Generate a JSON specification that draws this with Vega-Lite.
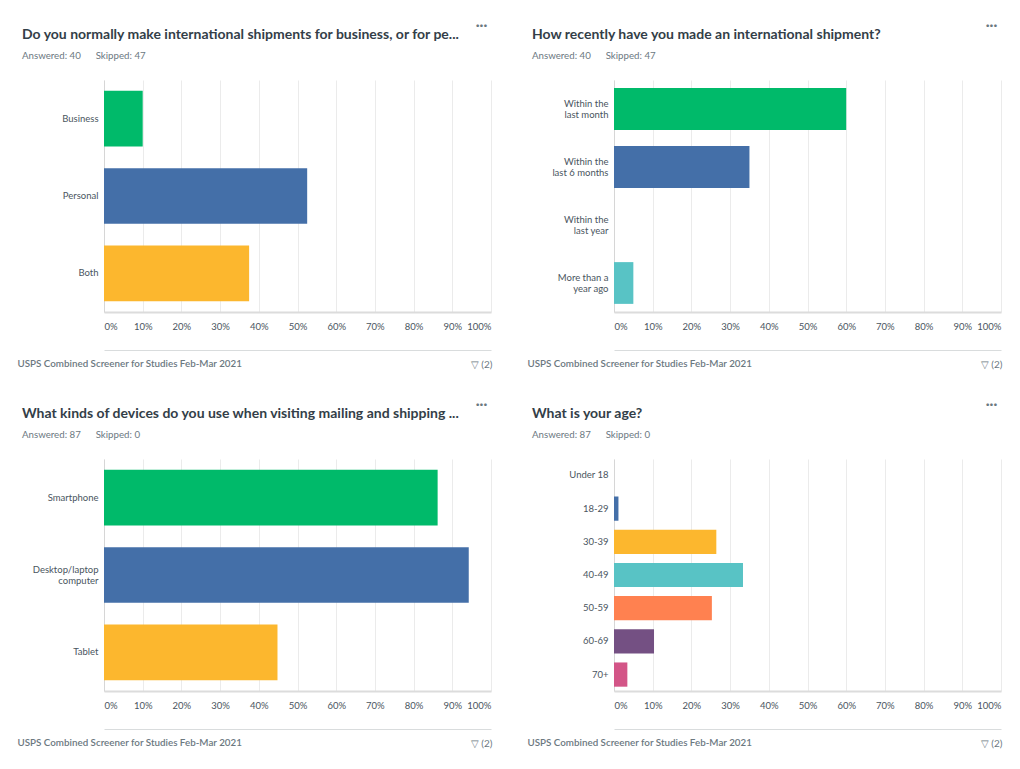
{
  "$schema": "https://vega.github.io/schema/vega-lite/v6.json",
  "autosize": {"type": "none"},
  "padding": {"left": 104, "top": 80, "right": 916, "bottom": 689},
  "background": "white",
  "bounds": "flush",
  "columns": 2,
  "spacing": {"row": 147, "column": 123},
  "resolve": {"scale": {"color": "independent", "x": "independent", "y": "independent"}},
  "concat": [
        {
          "width": 387, "height": 232,
          "title": {"text": "Do you normally make international shipments for business, or for pe...", "subtitle": "Answered: 40\u00a0\u00a0\u00a0\u00a0\u00a0\u00a0Skipped: 47"},
          "data": {"values": [
            {"answer": "Business", "pct": 10},
            {"answer": "Personal", "pct": 52.5},
            {"answer": "Both", "pct": 37.5}
          ]},
          "layer": [
            {
              "mark": {"type": "bar"},
              "encoding": {
                "y": {"field": "answer", "type": "nominal", "sort": null, "scale": {"paddingInner": 0.28, "paddingOuter": 0.14}, "axis": {"title": "···", "titleX": 377, "titleY": -55}},
                "x": {"field": "pct", "type": "quantitative", "scale": {"domain": [0, 100]}, "axis": {"values": [0,10,20,30,40,50,60,70,80,90,100], "labelExpr": "datum.value + '%'", "title": "USPS Combined Screener for Studies Feb-Mar 2021", "titleX": -87, "titleY": 51}},
                "color": {"field": "answer", "type": "nominal", "scale": {"domain": ["Business", "Personal", "Both"], "range": ["#00ba6a", "#446fa8", "#fcb72e"]}, "legend": null}
              }
            },
            {
              "mark": {"type": "bar", "opacity": 0},
              "encoding": {
                "y": {"field": "answer", "type": "nominal", "sort": null},
                "x": {"field": "pct", "type": "quantitative", "axis": {"orient": "bottom", "offset": 38, "domain": true, "domainColor": "#d9dcdd", "domainWidth": 1, "labels": false, "ticks": false, "grid": false, "title": "▽ (2)", "titleX": 388, "titleY": 14, "titleAlign": "right", "titleBaseline": "middle", "titleFontSize": 10, "titleFontWeight": "normal", "titleColor": "#6b787f"}}
              }
            }
          ],
          "resolve": {"axis": {"x": "independent"}}
        },
        {
          "width": 387, "height": 232,
          "title": {"text": "How recently have you made an international shipment?", "subtitle": "Answered: 40\u00a0\u00a0\u00a0\u00a0\u00a0\u00a0Skipped: 47"},
          "data": {"values": [
            {"answer": "Within the last month", "pct": 60},
            {"answer": "Within the last 6 months", "pct": 35},
            {"answer": "Within the last year", "pct": 0},
            {"answer": "More than a year ago", "pct": 5}
          ]},
          "layer": [
            {
              "mark": {"type": "bar"},
              "encoding": {
                "y": {"field": "answer", "type": "nominal", "sort": null, "scale": {"paddingInner": 0.28, "paddingOuter": 0.14}, "axis": {"title": "···", "titleX": 377, "titleY": -55, "labelOffset": -5.5, "labelExpr": "datum.value == 'More than a year ago' ? ['More than a', 'year ago'] : ['Within the', substring(datum.value, 11)]"}},
                "x": {"field": "pct", "type": "quantitative", "scale": {"domain": [0, 100]}, "axis": {"values": [0,10,20,30,40,50,60,70,80,90,100], "labelExpr": "datum.value + '%'", "title": "USPS Combined Screener for Studies Feb-Mar 2021", "titleX": -87, "titleY": 51}},
                "color": {"field": "answer", "type": "nominal", "scale": {"domain": ["Within the last month", "Within the last 6 months", "Within the last year", "More than a year ago"], "range": ["#00ba6a", "#446fa8", "#fcb72e", "#58c3c5"]}, "legend": null}
              }
            },
            {
              "mark": {"type": "bar", "opacity": 0},
              "encoding": {
                "y": {"field": "answer", "type": "nominal", "sort": null},
                "x": {"field": "pct", "type": "quantitative", "axis": {"orient": "bottom", "offset": 38, "domain": true, "domainColor": "#d9dcdd", "domainWidth": 1, "labels": false, "ticks": false, "grid": false, "title": "▽ (2)", "titleX": 388, "titleY": 14, "titleAlign": "right", "titleBaseline": "middle", "titleFontSize": 10, "titleFontWeight": "normal", "titleColor": "#6b787f"}}
              }
            }
          ],
          "resolve": {"axis": {"x": "independent"}}
        },
        {
          "width": 387, "height": 232,
          "title": {"text": "What kinds of devices do you use when visiting mailing and shipping ...", "subtitle": "Answered: 87\u00a0\u00a0\u00a0\u00a0\u00a0\u00a0Skipped: 0"},
          "data": {"values": [
            {"answer": "Smartphone", "pct": 86.21},
            {"answer": "Desktop/laptop computer", "pct": 94.25},
            {"answer": "Tablet", "pct": 44.83}
          ]},
          "layer": [
            {
              "mark": {"type": "bar"},
              "encoding": {
                "y": {"field": "answer", "type": "nominal", "sort": null, "scale": {"paddingInner": 0.28, "paddingOuter": 0.14}, "axis": {"title": "···", "titleX": 377, "titleY": -55, "labelOffset": {"condition": {"test": "datum.value == 'Desktop/laptop computer'", "value": -5.5}, "value": 0}, "labelExpr": "datum.value == 'Desktop/laptop computer' ? ['Desktop/laptop', 'computer'] : datum.value"}},
                "x": {"field": "pct", "type": "quantitative", "scale": {"domain": [0, 100]}, "axis": {"values": [0,10,20,30,40,50,60,70,80,90,100], "labelExpr": "datum.value + '%'", "title": "USPS Combined Screener for Studies Feb-Mar 2021", "titleX": -87, "titleY": 51}},
                "color": {"field": "answer", "type": "nominal", "scale": {"domain": ["Smartphone", "Desktop/laptop computer", "Tablet"], "range": ["#00ba6a", "#446fa8", "#fcb72e"]}, "legend": null}
              }
            },
            {
              "mark": {"type": "bar", "opacity": 0},
              "encoding": {
                "y": {"field": "answer", "type": "nominal", "sort": null},
                "x": {"field": "pct", "type": "quantitative", "axis": {"orient": "bottom", "offset": 38, "domain": true, "domainColor": "#d9dcdd", "domainWidth": 1, "labels": false, "ticks": false, "grid": false, "title": "▽ (2)", "titleX": 388, "titleY": 14, "titleAlign": "right", "titleBaseline": "middle", "titleFontSize": 10, "titleFontWeight": "normal", "titleColor": "#6b787f"}}
              }
            }
          ],
          "resolve": {"axis": {"x": "independent"}}
        },
        {
          "width": 387, "height": 232,
          "title": {"text": "What is your age?", "subtitle": "Answered: 87\u00a0\u00a0\u00a0\u00a0\u00a0\u00a0Skipped: 0"},
          "data": {"values": [
            {"answer": "Under 18", "pct": 0},
            {"answer": "18-29", "pct": 1.15},
            {"answer": "30-39", "pct": 26.44},
            {"answer": "40-49", "pct": 33.33},
            {"answer": "50-59", "pct": 25.29},
            {"answer": "60-69", "pct": 10.34},
            {"answer": "70+", "pct": 3.45}
          ]},
          "layer": [
            {
              "mark": {"type": "bar"},
              "encoding": {
                "y": {"field": "answer", "type": "nominal", "sort": null, "scale": {"paddingInner": 0.27, "paddingOuter": 0.13}, "axis": {"title": "···", "titleX": 377, "titleY": -55}},
                "x": {"field": "pct", "type": "quantitative", "scale": {"domain": [0, 100]}, "axis": {"values": [0,10,20,30,40,50,60,70,80,90,100], "labelExpr": "datum.value + '%'", "title": "USPS Combined Screener for Studies Feb-Mar 2021", "titleX": -87, "titleY": 51}},
                "color": {"field": "answer", "type": "nominal", "scale": {"domain": ["Under 18", "18-29", "30-39", "40-49", "50-59", "60-69", "70+"], "range": ["#00ba6a", "#446fa8", "#fcb72e", "#58c3c5", "#ff8150", "#745083", "#d35587"]}, "legend": null}
              }
            },
            {
              "mark": {"type": "bar", "opacity": 0},
              "encoding": {
                "y": {"field": "answer", "type": "nominal", "sort": null},
                "x": {"field": "pct", "type": "quantitative", "axis": {"orient": "bottom", "offset": 38, "domain": true, "domainColor": "#d9dcdd", "domainWidth": 1, "labels": false, "ticks": false, "grid": false, "title": "▽ (2)", "titleX": 388, "titleY": 14, "titleAlign": "right", "titleBaseline": "middle", "titleFontSize": 10, "titleFontWeight": "normal", "titleColor": "#6b787f"}}
              }
            }
          ],
          "resolve": {"axis": {"x": "independent"}}
        }
  ],
  "config": {
    "font": "Lato",
    "view": {"stroke": null},
    "title": {"anchor": "start", "frame": "group", "dx": -82, "offset": -43, "fontSize": 14, "fontWeight": "bold", "color": "#333e48", "subtitleFontSize": 9.7, "subtitleColor": "#6b787f", "subtitlePadding": 9, "subtitleFont": "Lato"},
    "axisX": {"grid": true, "gridColor": "#ebebeb", "gridWidth": 1, "domainColor": "#dcdcdc", "domainWidth": 2, "ticks": false, "labelFontSize": 9.5, "labelColor": "#4a5560", "labelPadding": 9, "labelFlush": true, "labelOverlap": false, "titleFontSize": 9.8, "titleFontWeight": 600, "titleColor": "#6b787f", "titleAlign": "left", "titleBaseline": "middle"},
    "axisY": {"grid": false, "domainColor": "#d6d6d6", "domainWidth": 1, "ticks": false, "labelFontSize": 9.5, "labelColor": "#4a5560", "labelPadding": 6, "labelLineHeight": 11, "labelLimit": 200, "titleAngle": 0, "titleAlign": "center", "titleBaseline": "middle", "titleFontSize": 14, "titleFontWeight": "bold", "titleColor": "#6b787f"}
  }
}
